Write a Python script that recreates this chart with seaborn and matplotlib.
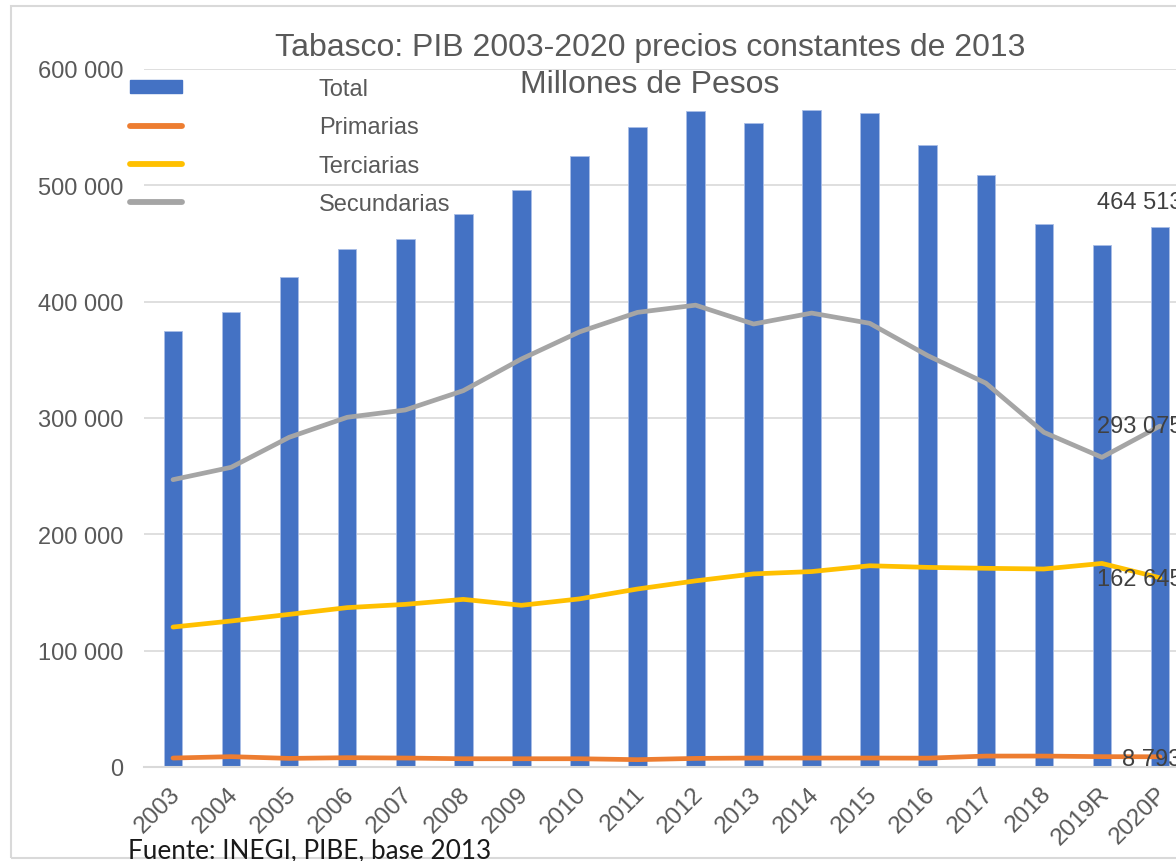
import numpy as np
import pandas as pd
import matplotlib
matplotlib.use('Agg')
import matplotlib.pyplot as plt
import seaborn as sns
from matplotlib.patches import Patch, Rectangle
from matplotlib.lines import Line2D
from matplotlib.transforms import ScaledTranslation
from matplotlib.ticker import FuncFormatter

# datos (millones de pesos)
years = ['2003', '2004', '2005', '2006', '2007', '2008', '2009', '2010', '2011',
         '2012', '2013', '2014', '2015', '2016', '2017', '2018', '2019R', '2020P']
total = [374800, 390900, 421000, 445300, 453900, 475000, 496000, 525000, 550000,
         564000, 553600, 565000, 562500, 535000, 509000, 467000, 448700, 464513]
primarias = [7700, 8900, 7400, 8000, 7700, 7100, 7100, 7100, 6300,
             7400, 7700, 7700, 7700, 7600, 9400, 9400, 8900, 8793]
terciarias = [120300, 125500, 131200, 137000, 139800, 144100, 139000, 144500, 153000,
              160000, 166000, 168000, 173000, 171600, 170800, 170200, 175000, 162645]
secundarias = [247000, 257600, 283400, 300600, 306900, 323500, 350700, 374000, 390800,
               397000, 380800, 390200, 381400, 353600, 330000, 287700, 266200, 293075]

df = pd.DataFrame({'anio': years, 'pos': np.arange(len(years)), 'Total': total,
                   'Primarias': primarias, 'Terciarias': terciarias,
                   'Secundarias': secundarias})

azul, naranja, amarillo, gris = '#4472C4', '#ED7D31', '#FFC000', '#A5A5A5'
txt = '#595959'

sns.set_style('white')
plt.rcParams['font.family'] = ['Liberation Sans', 'DejaVu Sans']

W, H = 1176, 862
fig = plt.figure(figsize=(W / 100, H / 100), dpi=100)
ax = fig.add_axes([144 / W, 1 - 768 / H, 1045 / W, (768 - 70) / H])

sns.barplot(data=df, x='anio', y='Total', color=azul, width=0.32, saturation=1,
            edgecolor='#a9bde6', linewidth=0.6, ax=ax, zorder=2)
for col, c in [('Primarias', naranja), ('Terciarias', amarillo), ('Secundarias', gris)]:
    sns.lineplot(data=df, x='pos', y=col, color=c, linewidth=3.4, legend=False,
                 ax=ax, zorder=3, solid_capstyle='round')

ax.set_xlim(-0.5, 17.5)
ax.set_ylim(0, 600000)
ax.set_yticks(np.arange(0, 600001, 100000))
ax.yaxis.set_major_formatter(FuncFormatter(lambda v, p: f'{int(v):,}'.replace(',', ' ')))
ax.grid(axis='y', color='#d9d9d9', linewidth=1.2, zorder=0)
ax.set_axisbelow(True)
for s in ['top', 'right', 'left']:
    ax.spines[s].set_visible(False)
ax.spines['bottom'].set_color('#d9d9d9')
ax.spines['bottom'].set_linewidth(1.5)
ax.set_xlabel('')
ax.set_ylabel('')
ax.tick_params(axis='y', length=0, pad=15, labelsize=17, labelcolor=txt)
ax.tick_params(axis='x', length=0, pad=11, labelsize=17.5, labelcolor=txt)
ax.set_xticks(np.arange(len(years)))
ax.set_xticklabels(years, rotation=45, ha='right', va='top', rotation_mode='anchor')
for lab in ax.get_xticklabels():
    lab.set_transform(lab.get_transform() + ScaledTranslation(-0.04, 0, fig.dpi_scale_trans))

# etiquetas del ultimo punto
last = len(years) - 1
for val, dx, dy in [(total[-1], -45, 18), (secundarias[-1], -45, 0),
                    (terciarias[-1], -45, -1), (primarias[-1], -27, -1.5)]:
    ax.annotate(f'{val:,}'.replace(',', ' '), xy=(last, val), xytext=(dx, dy),
                textcoords='offset points', ha='left', va='center', fontsize=17,
                color='#404040', zorder=5, annotation_clip=False)

handles = [Patch(color=azul),
           Line2D([], [], color=naranja, lw=4.2, solid_capstyle='round'),
           Line2D([], [], color=amarillo, lw=4.2, solid_capstyle='round'),
           Line2D([], [], color=gris, lw=4.2, solid_capstyle='round')]
fig.legend(handles, ['Total', 'Primarias', 'Terciarias', 'Secundarias'],
           loc='upper left', bbox_to_anchor=(130 / W, 1 - 79 / H), frameon=False,
           fontsize=17, labelcolor=txt, handlelength=2.2, handleheight=0.5,
           handletextpad=5.8, labelspacing=0.69, borderpad=0, borderaxespad=0)

fig.text(650 / W, 1 - 48 / H, 'Tabasco: PIB 2003-2020 precios constantes de 2013',
         ha='center', va='center', fontsize=23, color=txt)
fig.text(650 / W, 1 - 85 / H, 'Millones de Pesos', ha='center', va='center',
         fontsize=23, color=txt)
fig.text(128 / W, 1 - 851 / H, 'Fuente: INEGI, PIBE, base 2013', ha='left',
         va='center', fontsize=18.8, color='#1a1a1a', family=['Lato', 'DejaVu Sans'])

fig.patches.append(Rectangle((11 / W, 3 / H), 1.2, 1 - 10 / H, transform=fig.transFigure,
                             fill=False, edgecolor='#d9d9d9', linewidth=1.5))

fig.savefig('out.png', dpi=100)
